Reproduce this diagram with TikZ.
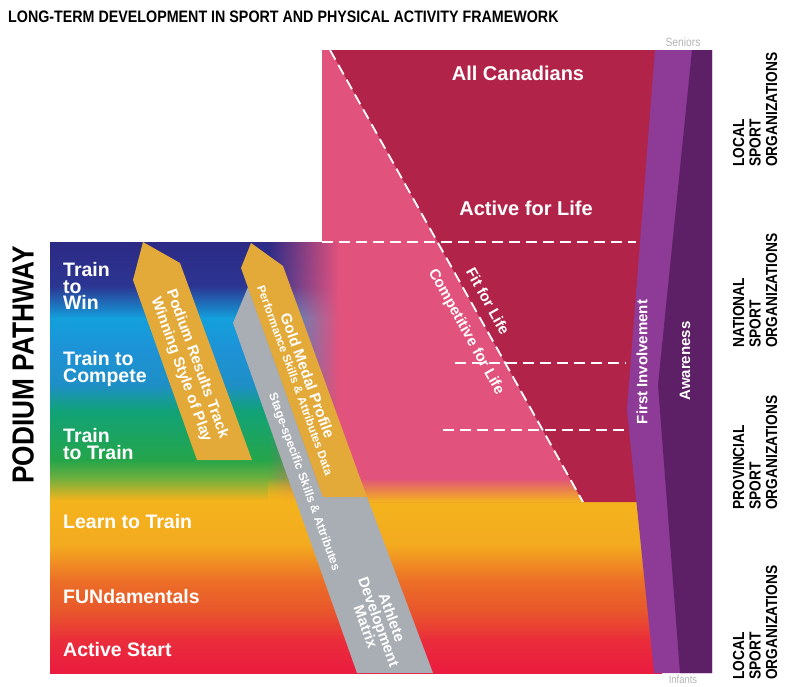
\documentclass[tikz,border=0pt]{standalone}
\usepackage{fontspec}
\setmainfont{Liberation Sans}
\newfontfamily\condfont[FakeStretch=0.86]{Liberation Sans}
\usepackage{tikz}
\usetikzlibrary{calc}
\usetikzlibrary{fadings}
\definecolor{crimson}{HTML}{B2234A}
\definecolor{rosepink}{HTML}{E1527D}
\definecolor{lpurple}{HTML}{8E3A97}
\definecolor{dpurple}{HTML}{5D2066}
\definecolor{goldband}{HTML}{E3AA3A}
\definecolor{greyband}{HTML}{A9ADB4}
\definecolor{edgegrey}{HTML}{B4B4B4}
\definecolor{rbA}{HTML}{2C2A85}
\definecolor{rbB}{HTML}{2C3592}
\definecolor{rbC}{HTML}{13A0DC}
\definecolor{rbD}{HTML}{1E92D6}
\definecolor{rbE}{HTML}{1E8FC6}
\definecolor{rbF}{HTML}{11A278}
\definecolor{rbG}{HTML}{25A54A}
\definecolor{rbH}{HTML}{6FAF3E}
\definecolor{rbI}{HTML}{F4B41D}
\definecolor{rbJ}{HTML}{F3AA1F}
\definecolor{rbK}{HTML}{EC6F27}
\definecolor{rbL}{HTML}{E8552C}
\definecolor{rbM}{HTML}{EA2D3B}
\definecolor{rbN}{HTML}{EA1B3F}
\tikzfading[name=fadeleft, left color=transparent!100, right color=transparent!0]
\tikzfading[name=fadetop, top color=transparent!100, bottom color=transparent!0]

\begin{document}
\begin{tikzpicture}[x=1pt, y=-1pt,
  stage/.style={text=white, font=\bfseries\fontsize{19.5}{16.5}\selectfont, anchor=west, align=left, inner sep=0},
  org/.style={font=\condfont\bfseries\fontsize{16}{16.5}\selectfont, rotate=90, anchor=west, align=left, inner sep=0},
  bandtext/.style={text=white, font=\bfseries, align=center, inner sep=0},
  dashline/.style={white, line width=1.8, dash pattern=on 11pt off 6pt}]
\newcommand{\orglabel}[3]{\node (#1) [org] at (755,#2) {#3};}
\useasboundingbox (0,0) rectangle (795,686);
% rainbow of the podium pathway
\foreach \ya/\ca/\yb/\cb in {242/rbA/286/rbB, 286/rbB/318/rbC, 318/rbC/350/rbD, 350/rbD/385/rbE, 385/rbE/410/rbF, 410/rbF/460/rbG, 460/rbG/478/rbH, 478/rbH/500/rbI, 500/rbI/545/rbJ, 545/rbJ/580/rbK, 580/rbK/612/rbL, 612/rbL/640/rbM, 640/rbM/673/rbN}
  \fill[top color=\ca, bottom color=\cb] (50,\ya) rectangle (662,\yb+0.5);
% active for life
\fill[rosepink] (322,50) -- (330,50) -- (583,502) -- (338,502) -- (338,242) -- (322,242) -- cycle;
\fill[rosepink, path fading=fadeleft] (268,242) rectangle (338.5,502);
\fill[rbI, path fading=fadetop] (268,478) -- (572,478) -- (583,502) -- (268,502) -- cycle;
\fill[crimson] (330,50) -- (662,50) -- (662,502) -- (583,502) -- cycle;
% development bands
\fill[greyband] (248,287) -- (233,323) -- (357,673) -- (433,673) -- (367,497) -- (323,497) -- cycle;
\fill[goldband] (143,242) -- (180,263) -- (252,460) -- (197,460) -- (133,280) -- cycle;
\fill[goldband] (251,243) -- (283,266) -- (367,497) -- (323,497) -- (241,268) -- cycle;
\draw[dashline] (330,50) -- (583,502);
\draw[dashline] (322,242) -- (636,242) (455,363) -- (626,363) (443,430) -- (630,430);
% involvement
\fill[lpurple] (655,50) -- (712,50) -- (712,673) -- (654,673) -- (627,410) -- cycle;
\fill[dpurple] (692,50) -- (712,50) -- (712,673) -- (680,673) -- (658,385) -- cycle;
% texts
\node (title) [anchor=west, inner sep=0, font=\condfont\bfseries\fontsize{16.6}{18}\selectfont] at (8,17) {LONG-TERM DEVELOPMENT IN SPORT AND PHYSICAL ACTIVITY FRAMEWORK};
\node (podium) [rotate=90, inner sep=0, font=\condfont\bfseries\fontsize{30.5}{31}\selectfont] at (23,365) {PODIUM PATHWAY};
\node (seniors) [text=edgegrey, inner sep=0, font=\condfont\fontsize{12}{12}\selectfont] at (683,42) {Seniors};
\node (infants) [text=edgegrey, inner sep=0, font=\condfont\fontsize{11}{11}\selectfont] at (683,680) {Infants};
\node (allcan) [text=white, font=\bfseries\fontsize{20}{22}\selectfont] at (518,73) {All Canadians};
\node (activelife) [text=white, font=\bfseries\fontsize{20}{22}\selectfont] at (526,208) {Active for Life};
\node (fitlife) [bandtext, rotate=-61, font=\bfseries\fontsize{15}{16}\selectfont] at (488,301) {Fit for Life};
\node (complife) [bandtext, rotate=-61, font=\bfseries\fontsize{15}{16}\selectfont] at (466,332) {Competitive for Life};
\node (firstinv) [bandtext, rotate=90, font=\bfseries\fontsize{15}{16}\selectfont] at (642,362) {First Involvement};
\node (awareness) [bandtext, rotate=90, font=\bfseries\fontsize{15}{16}\selectfont] at (685,361) {Awareness};
\node (twin) [stage] at (63,286) {Train\\to\\Win};
\node (tcomp) [stage] at (63,369) {Train to\\Compete};
\node (ttrain) [stage] at (63,444) {Train\\to Train};
\node (ltrain) [stage] at (63,522) {Learn to Train};
\node (fund) [stage] at (63,597) {FUNdamentals};
\node (astart) [stage] at (63,650) {Active Start};
\node (podres) [bandtext, rotate=-70, font=\bfseries\fontsize{15}{17}\selectfont] at (189,367) {Podium Results Track\\Winning Style of Play};
\node (goldmed) [bandtext, rotate=-70] at (302,378) {{\fontsize{15}{15}\selectfont Gold Medal Profile}\\{\fontsize{11.5}{13}\selectfont Performance Skills \& Attributes Data}};
\node (stagesp) [bandtext, rotate=-70, font=\bfseries\fontsize{12}{13}\selectfont] at (304,482) {Stage-specific Skills \& Attributes};
\node (adm) [bandtext, rotate=-70, font=\bfseries\fontsize{15}{14}\selectfont] at (379,622) {Athlete\\Development\\Matrix};
\orglabel{orgtop}{167}{LOCAL\\SPORT\\ORGANIZATIONS}
\orglabel{orgnat}{348}{NATIONAL\\SPORT\\ORGANIZATIONS}
\orglabel{orgprov}{510}{PROVINCIAL\\SPORT\\ORGANIZATIONS}
\orglabel{orgbot}{680}{LOCAL\\SPORT\\ORGANIZATIONS}
\end{tikzpicture}
\end{document}
